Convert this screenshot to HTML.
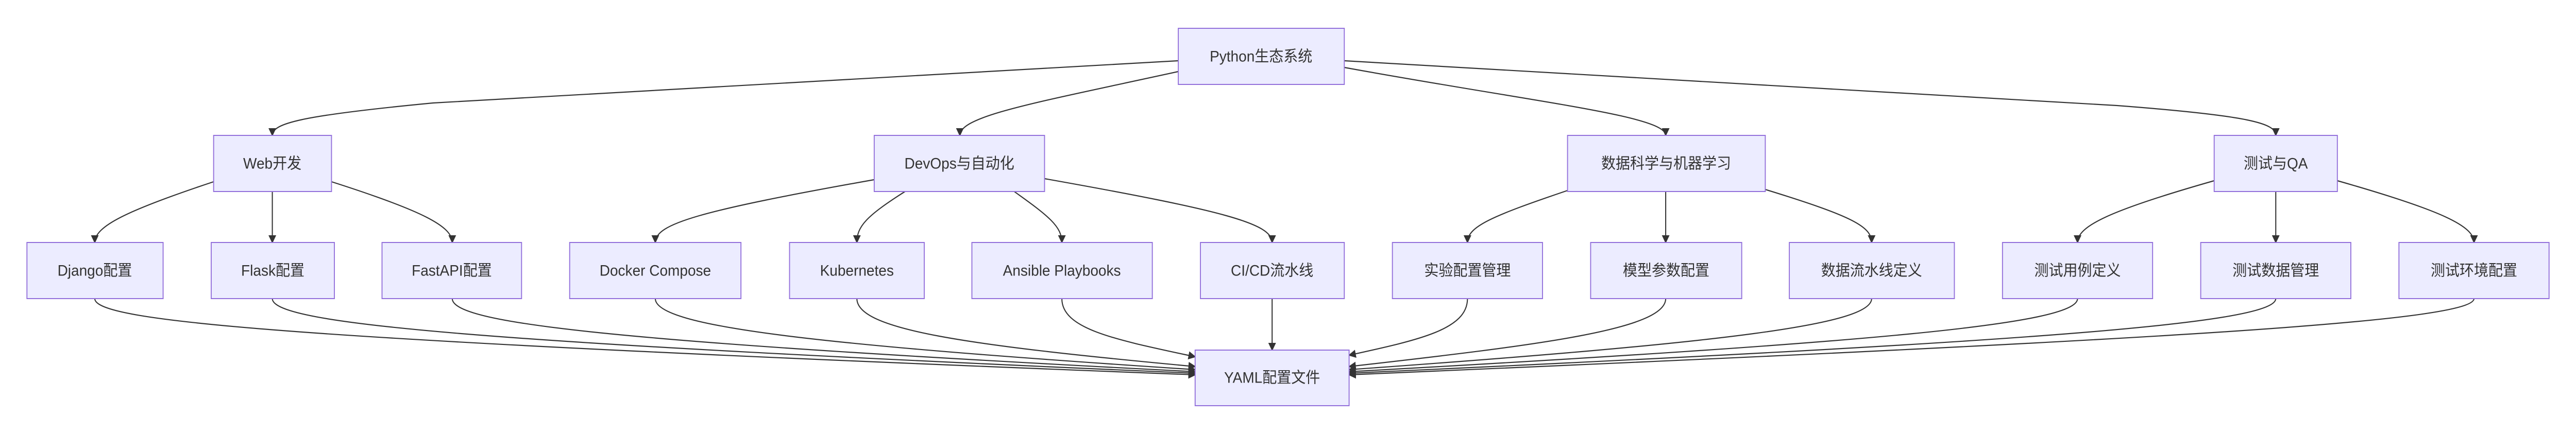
<!DOCTYPE html>
<html><head><meta charset="utf-8"><style>
html,body{margin:0;padding:0;background:#fff;overflow:hidden;width:100vw;height:100vh}
svg{display:block;width:100vw;height:100vh}
text{font-family:"Liberation Sans","Noto Sans CJK SC",sans-serif;font-size:30px;fill:#333;text-anchor:middle;dominant-baseline:central}
.b{fill:#ECECFF;stroke:#9370DB;stroke-width:2}
.e{fill:none;stroke:#333;stroke-width:2.2}
</style></head><body>
<svg viewBox="0 0 5354 843" preserveAspectRatio="none" xmlns="http://www.w3.org/2000/svg">
<defs><marker id="a" markerUnits="userSpaceOnUse" markerWidth="16" markerHeight="16" refX="14" refY="8" orient="auto"><path d="M0,0 L16,8 L0,16 z" fill="#333"/></marker></defs>
<g class="e" marker-end="url(#a)">
<path d="M2449,118 L900,200 C620,225 566,240 566,263"/>
<path d="M2449,139 C2150,200 1995,225 1995,263"/>
<path d="M2794,131 C3200,200 3462,225 3462,263"/>
<path d="M2794,118 L4400,205 C4680,225 4730,240 4730,263"/>
<path d="M444,353 C260,410 197,440 197,471"/>
<path d="M566,372 L566,471"/>
<path d="M689,353 C880,410 940,440 940,471"/>
<path d="M1817,349 C1450,410 1362,435 1362,471"/>
<path d="M1881,372 C1800,420 1781,440 1781,471"/>
<path d="M2108,372 C2180,420 2207,440 2207,471"/>
<path d="M2171,347 C2550,410 2644,435 2644,471"/>
<path d="M3258,370 C3100,420 3050,440 3050,471"/>
<path d="M3462,372 L3462,471"/>
<path d="M3669,368 C3850,420 3890,440 3890,471"/>
<path d="M4602,351 C4380,410 4318,440 4318,471"/>
<path d="M4730,372 L4730,471"/>
<path d="M4858,351 C5080,410 5142,440 5142,471"/>
<path d="M197,580 C197,625 600,660 2484,728"/>
<path d="M566,580 C566,630 1000,665 2484,725"/>
<path d="M940,580 C940,630 1300,665 2484,722"/>
<path d="M1362,580 C1362,635 1700,670 2484,718"/>
<path d="M1781,580 C1781,640 2000,670 2484,712"/>
<path d="M2207,580 C2207,640 2320,660 2484,693"/>
<path d="M2644,580 L2644,680"/>
<path d="M3050,580 C3050,640 2950,660 2804,690"/>
<path d="M3462,580 C3462,640 3200,670 2804,712"/>
<path d="M3890,580 C3890,630 3600,665 2804,718"/>
<path d="M4318,580 C4318,630 3900,665 2804,722"/>
<path d="M4730,580 C4730,630 4200,665 2804,725"/>
<path d="M5142,580 C5142,625 4500,660 2804,728"/>
</g>
<g>
<rect class="b" x="2449" y="55" width="345" height="109"/><text x="2621" y="110">Python生态系统</text>
<rect class="b" x="444" y="263" width="245" height="109"/><text x="566" y="318">Web开发</text>
<rect class="b" x="1817" y="263" width="354" height="109"/><text x="1994" y="318">DevOps与自动化</text>
<rect class="b" x="3258" y="263" width="411" height="109"/><text x="3463" y="318">数据科学与机器学习</text>
<rect class="b" x="4602" y="263" width="256" height="109"/><text x="4730" y="318">测试与QA</text>
<rect class="b" x="56" y="471" width="283" height="109"/><text x="197" y="526">Django配置</text>
<rect class="b" x="439" y="471" width="256" height="109"/><text x="567" y="526">Flask配置</text>
<rect class="b" x="794" y="471" width="290" height="109"/><text x="939" y="526">FastAPI配置</text>
<rect class="b" x="1184" y="471" width="356" height="109"/><text x="1362" y="526">Docker Compose</text>
<rect class="b" x="1641" y="471" width="280" height="109"/><text x="1781" y="526">Kubernetes</text>
<rect class="b" x="2020" y="471" width="375" height="109"/><text x="2207" y="526">Ansible Playbooks</text>
<rect class="b" x="2495" y="471" width="299" height="109"/><text x="2644" y="526">CI/CD流水线</text>
<rect class="b" x="2894" y="471" width="312" height="109"/><text x="3050" y="526">实验配置管理</text>
<rect class="b" x="3306" y="471" width="314" height="109"/><text x="3463" y="526">模型参数配置</text>
<rect class="b" x="3719" y="471" width="343" height="109"/><text x="3890" y="526">数据流水线定义</text>
<rect class="b" x="4162" y="471" width="312" height="109"/><text x="4318" y="526">测试用例定义</text>
<rect class="b" x="4574" y="471" width="312" height="109"/><text x="4730" y="526">测试数据管理</text>
<rect class="b" x="4986" y="471" width="312" height="109"/><text x="5142" y="526">测试环境配置</text>
<rect class="b" x="2484" y="680" width="320" height="108"/><text x="2644" y="734">YAML配置文件</text>
</g>
</svg>
</body></html>
